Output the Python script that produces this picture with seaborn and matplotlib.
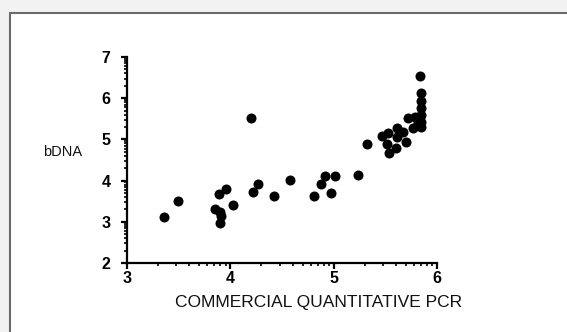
import numpy as np
import pandas as pd
import matplotlib
matplotlib.use("Agg")
import matplotlib.pyplot as plt
import seaborn as sns
from matplotlib.patches import Rectangle
from matplotlib.ticker import FixedLocator

# Data (log10 copies/mL)
pcr = [3.36, 3.49, 3.89, 3.96, 3.85, 3.90, 3.91, 3.90, 4.03, 4.20, 4.22, 4.27,
       4.42, 4.58, 4.81, 4.88, 4.92, 4.97, 5.01, 5.24, 5.32, 5.47, 5.53, 5.52,
       5.54, 5.60, 5.61, 5.61, 5.67, 5.70, 5.72, 5.77, 5.79, 5.84, 5.85, 5.85,
       5.85, 5.85, 5.85, 5.85, 5.82]
bdna = [3.12, 3.51, 3.67, 3.79, 3.32, 3.23, 3.15, 2.98, 3.40, 5.51, 3.73, 3.91,
        3.63, 4.01, 3.63, 3.91, 4.11, 3.71, 4.11, 4.14, 4.88, 5.09, 5.15, 4.89,
        4.68, 4.78, 5.07, 5.27, 5.19, 4.94, 5.53, 5.27, 5.55, 6.54, 6.13, 5.92,
        5.76, 5.59, 5.43, 5.31, 5.43]
x_ticks = [3, 4, 5, 6]
y_ticks = [2, 3, 4, 5, 6, 7]
x_label = "COMMERCIAL QUANTITATIVE PCR"
y_label = "bDNA"

df = pd.DataFrame({"pcr": pcr, "bdna": bdna})

sns.set_style("ticks")
plt.rcParams['font.family'] = ['Liberation Sans', 'DejaVu Sans']

W, H = 567, 332
fig = plt.figure(figsize=(W / 100, H / 100), dpi=100)
fig.patch.set_facecolor("#f2f2f2")
# white panel with grey top/left border
fig.patches.append(Rectangle((10 / W, 0), 1.0, 1 - 13 / H, transform=fig.transFigure,
                             facecolor="white", edgecolor="none", zorder=-5))
fig.lines.append(plt.Line2D([10 / W, 1.01], [1 - 13 / H, 1 - 13 / H], transform=fig.transFigure,
                            color="#6a6a6a", lw=1.5, zorder=-4))
fig.lines.append(plt.Line2D([10 / W, 10 / W], [-0.01, 1 - 13 / H], transform=fig.transFigure,
                            color="#6a6a6a", lw=1.5, zorder=-4))

ax = fig.add_axes([127 / W, (H - 263) / H, 310 / W, 206 / H])
ax.set_zorder(2)
ax.set_facecolor("none")

sns.scatterplot(data=df, x="pcr", y="bdna", ax=ax, color="black", s=52,
                edgecolor="black", linewidth=0, clip_on=False, zorder=3)

ax.set_xlim(3, 6)
ax.set_ylim(2, 7)
ax.set_xticks(x_ticks)
ax.set_yticks(y_ticks)
minor_x = [n + np.log10(k) for n in range(3, 6) for k in range(2, 10)]
minor_y = [n + np.log10(k) for n in range(2, 7) for k in range(2, 10)]
ax.xaxis.set_minor_locator(FixedLocator(minor_x))
ax.yaxis.set_minor_locator(FixedLocator(minor_y))

for s in ["top", "right"]:
    ax.spines[s].set_visible(False)
for s in ["left", "bottom"]:
    ax.spines[s].set_linewidth(1.6)
    ax.spines[s].set_color("black")

ax.tick_params(axis="both", which="major", length=4, width=1.6, color="black",
               labelsize=11.5, labelcolor="black")
ax.tick_params(axis="both", which="minor", length=2.5, width=1.2, color="black")
ax.tick_params(axis="x", which="major", pad=2)
ax.tick_params(axis="y", which="major", pad=8)
for lab in ax.get_xticklabels() + ax.get_yticklabels():
    lab.set_fontweight("bold")

ax.set_xlabel("")
ax.set_ylabel("")
fig.text(319 / W, 1 - 302 / H, x_label, ha="center", va="center", fontsize=12.5, color="#111111")
fig.text(63 / W, 1 - 152 / H, y_label, ha="center", va="center", fontsize=10.5, color="#111111")

fig.savefig("out.png", dpi=100, facecolor=fig.get_facecolor())
